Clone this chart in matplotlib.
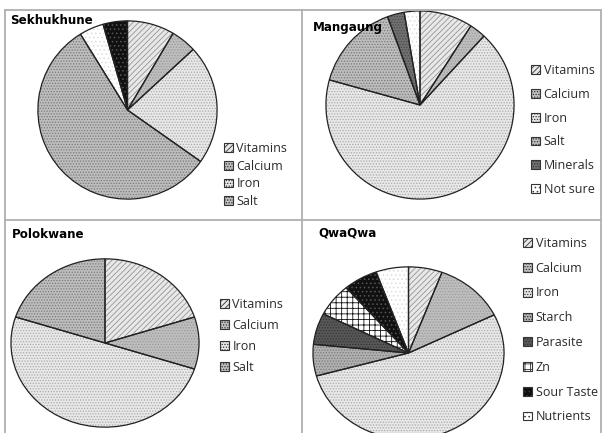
import matplotlib
matplotlib.use("Agg")
import matplotlib.pyplot as plt
from matplotlib.patches import Patch
from matplotlib.lines import Line2D

plt.rcParams["hatch.linewidth"] = 0.6

# slice shares per district, clockwise from 12 o'clock
sek_labels = ["Vitamins", "Calcium", "Iron", "Salt"]
sek_keys = ["Vitamins", "Calcium", "Iron", "Salt", "Not sure", "Sour Taste"]
sek_values = [8.5, 4.6, 21.7, 56.4, 4.4, 4.4]

man_labels = ["Vitamins", "Calcium", "Iron", "Salt", "Minerals", "Not sure"]
man_values = [9.1, 2.8, 67.4, 15.1, 2.9, 2.7]

pol_labels = ["Vitamins", "Calcium", "Iron", "Salt"]
pol_values = [20, 10, 50, 20]

qwa_labels = ["Vitamins", "Calcium", "Iron", "Starch", "Parasite", "Zn",
              "Sour Taste", "Nutrients"]
qwa_values = [5.7, 12.0, 53.0, 5.9, 5.9, 6.2, 5.8, 5.5]

# face colour, hatch, hatch colour
STYLE = {
    "Vitamins":   ("#e8e8e8", "//////", "#959595"),
    "Calcium":    ("#bebebe", "......", "#999999"),
    "Iron":       ("#e8e8e8", "......", "#aaaaaa"),
    "Salt":       ("#bdbdbd", "......", "#7a7a7a"),
    "Minerals":   ("#707070", "......", "#4a4a4a"),
    "Not sure":   ("#ffffff", "....", "#dddddd"),
    "Starch":     ("#b0b0b0", "......", "#7a7a7a"),
    "Parasite":   ("#585858", "......", "#333333"),
    "Zn":         ("#ffffff", "+++", "#111111"),
    "Sour Taste": ("#111111", "....", "#555555"),
    "Nutrients":  ("#ffffff", "....", "#dddddd"),
}

W, H = 603, 433
fig = plt.figure(figsize=(W / 100, H / 100), dpi=100)


def box(x0, y0, x1, y1):
    return [x0 / W, 1 - y1 / H, (x1 - x0) / W, (y1 - y0) / H]


def draw_pie(rect, values, keys, labels, title, title_xy, leg_xy, spacing):
    ax = fig.add_axes(box(*rect))
    wedges, _ = ax.pie(values, startangle=90, counterclock=False,
                       wedgeprops=dict(linewidth=0))
    for w, k in zip(wedges, keys):
        face, hatch, hcol = STYLE[k]
        w.set_facecolor(face)
        w.set_edgecolor(hcol)
        w.set_hatch(hatch)
    ax.pie(values, startangle=90, counterclock=False,
           wedgeprops=dict(facecolor="none", edgecolor="#222222", linewidth=0.9))
    ax.set_aspect("auto")
    ax.set_xlim(-1.01, 1.01)
    ax.set_ylim(-1.01, 1.01)

    handles = [Patch(facecolor=STYLE[k][0], hatch=STYLE[k][1],
                     edgecolor="#333333", linewidth=0.8) for k in labels]
    fig.legend(handles, labels, loc="upper left",
               bbox_to_anchor=(leg_xy[0] / W, 1 - leg_xy[1] / H),
               frameon=False, handlelength=0.7, handleheight=0.7,
               handletextpad=0.3, labelspacing=spacing, borderpad=0,
               borderaxespad=0, labelcolor="#2a2a2a",
               prop={"family": "Open Sans", "size": 9})
    fig.text(title_xy[0] / W, 1 - title_xy[1] / H, title, fontsize=8.6,
             fontweight="bold", va="center", ha="left", family="DejaVu Sans")


draw_pie((37, 20, 218, 200), sek_values, sek_keys, sek_labels,
         "Sekhukhune", (10, 21), (224, 142), 0.37)
draw_pie((325, 10, 515, 200), man_values, man_labels, man_labels,
         "Mangaung", (313, 27), (531, 64), 0.86)
draw_pie((10, 258, 200, 428), pol_values, pol_labels, pol_labels,
         "Polokwane", (12, 234), (220, 298), 0.63)
draw_pie((312, 266, 505, 440), qwa_values, qwa_labels, qwa_labels,
         "QwaQwa", (318, 233), (523, 237), 0.94)

# panel frame
grey = "#b0b0b0"
for xs, ys in [((5, 601), (10, 10)), ((5, 5), (10, 433)), ((601, 601), (10, 433)),
               ((302, 302), (10, 433)), ((5, 601), (220, 220))]:
    fig.add_artist(Line2D([x / W for x in xs], [1 - y / H for y in ys],
                          color=grey, linewidth=1.3))

fig.savefig("out.png", dpi=100)
